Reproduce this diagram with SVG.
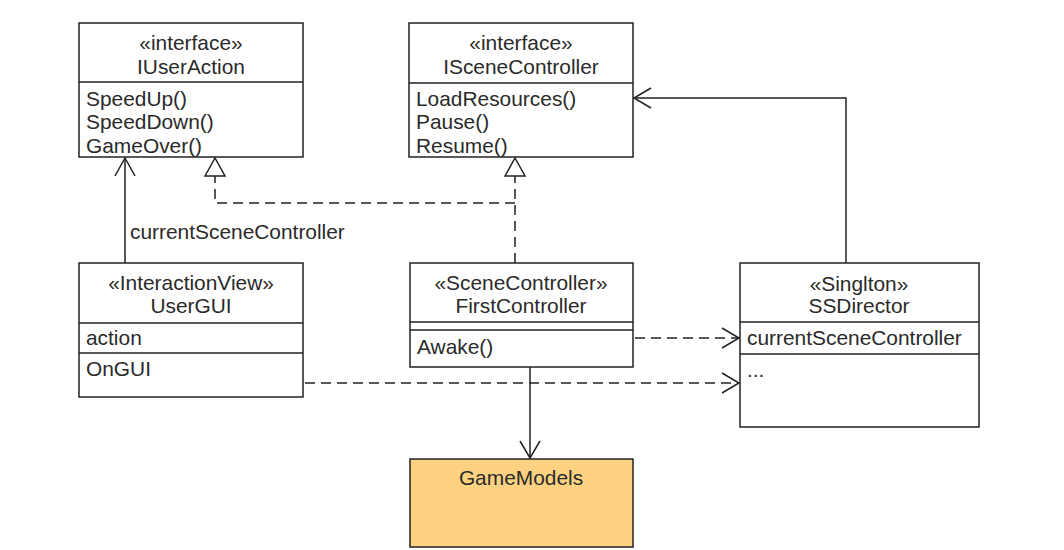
<svg xmlns="http://www.w3.org/2000/svg" width="1064" height="550" viewBox="0 0 1064 550">
<style>
.box{fill:#fff;stroke:#222;stroke-width:1.5}
.div{stroke:#222;stroke-width:1.5}
text{font-family:"Liberation Sans",Arial,sans-serif;font-size:20.9px;fill:#2a2a2a}
.c{text-anchor:middle}
.solid{fill:none;stroke:#222;stroke-width:1.5}
.dash{fill:none;stroke:#222;stroke-width:1.5;stroke-dasharray:10,6}
.tri{fill:#fff;stroke:#222;stroke-width:1.5}
</style>
<rect width="1064" height="550" fill="#fff"/>
<g id="connectors">
  <path class="solid" d="M125,263 V158"/>
  <path class="solid" d="M115,176 L125,158 L135,176"/>
  <text x="130" y="239">currentSceneController</text>
  <path class="dash" d="M515,263 V176"/>
  <path class="dash" d="M515,203 H215 V176"/>
  <path class="tri" d="M505,176 L515,158 L525,176 Z"/>
  <path class="tri" d="M205,176 L215,158 L225,176 Z"/>
  <path class="solid" d="M846,263 V98 H634"/>
  <path class="solid" d="M651,88 L634,98 L651,108"/>
  <path class="dash" d="M635,338 H739"/>
  <path class="solid" d="M722,328 L739,338 L722,348"/>
  <path class="dash" d="M305,383 H739"/>
  <path class="solid" d="M722,373 L739,383 L722,393"/>
  <path class="solid" d="M530,367 V458"/>
  <path class="solid" d="M520,441 L530,458 L540,441"/>
</g>
<g id="IUserAction">
  <rect class="box" x="79" y="23" width="224" height="134"/>
  <line class="div" x1="79" y1="82" x2="303" y2="82"/>
  <text class="c" x="191" y="50">«interface»</text>
  <text class="c" x="191" y="74">IUserAction</text>
  <text x="86" y="106">SpeedUp()</text>
  <text x="86" y="129">SpeedDown()</text>
  <text x="86" y="153">GameOver()</text>
</g>
<g id="ISceneController">
  <rect class="box" x="409" y="23" width="224" height="134"/>
  <line class="div" x1="409" y1="83" x2="633" y2="83"/>
  <text class="c" x="521" y="50">«interface»</text>
  <text class="c" x="521" y="74">ISceneController</text>
  <text x="416" y="106">LoadResources()</text>
  <text x="416" y="129">Pause()</text>
  <text x="416" y="153">Resume()</text>
</g>
<g id="UserGUI">
  <rect class="box" x="79" y="263" width="224" height="134"/>
  <line class="div" x1="79" y1="323" x2="303" y2="323"/>
  <line class="div" x1="79" y1="353" x2="303" y2="353"/>
  <text class="c" x="191" y="290">«InteractionView»</text>
  <text class="c" x="191" y="313">UserGUI</text>
  <text x="86" y="345">action</text>
  <text x="86" y="376">OnGUI</text>
</g>
<g id="FirstController">
  <rect class="box" x="410" y="263" width="223" height="104"/>
  <line class="div" x1="410" y1="322" x2="633" y2="322"/>
  <line class="div" x1="410" y1="330" x2="633" y2="330"/>
  <text class="c" x="521" y="290">«SceneController»</text>
  <text class="c" x="521" y="313">FirstController</text>
  <text x="417" y="354">Awake()</text>
</g>
<g id="SSDirector">
  <rect class="box" x="740" y="263" width="239" height="164"/>
  <line class="div" x1="740" y1="322" x2="979" y2="322"/>
  <line class="div" x1="740" y1="354" x2="979" y2="354"/>
  <text class="c" x="859" y="291">«Singlton»</text>
  <text class="c" x="859" y="313">SSDirector</text>
  <text x="747" y="345">currentSceneController</text>
  <text x="747" y="377">...</text>
</g>
<g id="GameModels">
  <rect class="box" x="410" y="459" width="223" height="88" style="fill:#FED281"/>
  <text class="c" x="521" y="485">GameModels</text>
</g>
</svg>
